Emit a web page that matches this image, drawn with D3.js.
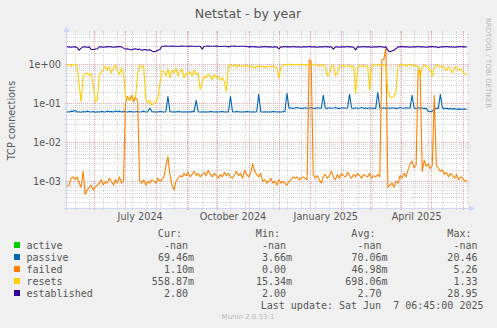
<!DOCTYPE html>
<html>
<head>
<meta charset="utf-8">
<script src="https://cdn.jsdelivr.net/npm/d3@7"></script>
<style>
  html, body { margin: 0; padding: 0; background: #f0f0f0; }
  svg { display: block; }
  text { white-space: pre; }
</style>
</head>
<body>
<svg id="chart" width="497" height="328"></svg>
<script>
// ---- data: TCP connection rates, one sample every 2 days ----
const sampleStart = Date.UTC(2024, 4, 5);
const sampleStepDays = 2;
const timeDomain = [new Date(Date.UTC(2024, 4, 5)), new Date(Date.UTC(2025, 5, 5, 10))];
const yDomain = [2.07e-4, 6.35];

const seriesNames  = ["active", "passive", "failed", "resets", "established"];
const seriesColors = ["#00cc00", "#0066b3", "#ff8000", "#ffcc00", "#330099"];

const activeValues = Array(199).fill(null);

const passiveValues = [
  0.061, 0.06, 0.063, 0.062, 0.066, 0.06, 0.061, 0.059, 0.062, 0.06,
  0.063, 0.061, 0.06, 0.062, 0.059, 0.061, 0.06, 0.062, 0.061, 0.06,
  0.063, 0.061, 0.062, 0.06, 0.064, 0.061, 0.063, 0.06, 0.062, 0.061,
  0.06, 0.062, 0.061, 0.06, 0.061, 0.062, 0.06, 0.061, 0.063, 0.06,
  0.061, 0.075, 0.062, 0.06, 0.061, 0.06, 0.062, 0.061, 0.06, 0.061,
  0.15, 0.062, 0.06, 0.061, 0.06, 0.062, 0.061, 0.06, 0.061, 0.06,
  0.061, 0.06, 0.062, 0.061, 0.12, 0.061, 0.06, 0.061, 0.06, 0.061,
  0.06, 0.062, 0.061, 0.06, 0.061, 0.06, 0.061, 0.062, 0.06, 0.061,
  0.06, 0.15, 0.061, 0.06, 0.062, 0.061, 0.06, 0.061, 0.06, 0.062,
  0.061, 0.06, 0.061, 0.06, 0.061, 0.17, 0.061, 0.06, 0.061, 0.06,
  0.061, 0.06, 0.062, 0.061, 0.06, 0.061, 0.06, 0.061, 0.062, 0.18,
  0.075, 0.077, 0.074, 0.076, 0.078, 0.075, 0.076, 0.074, 0.077, 0.075,
  0.076, 0.078, 0.075, 0.074, 0.077, 0.076, 0.075, 0.16, 0.076, 0.074,
  0.077, 0.075, 0.076, 0.078, 0.075, 0.074, 0.076, 0.077, 0.075, 0.076,
  0.17, 0.076, 0.074, 0.077, 0.075, 0.076, 0.078, 0.075, 0.076, 0.074,
  0.077, 0.075, 0.076, 0.074, 0.19, 0.076, 0.075, 0.077, 0.074, 0.076,
  0.075, 0.077, 0.076, 0.074, 0.075, 0.078, 0.076, 0.075, 0.077, 0.076,
  0.075, 0.16, 0.076, 0.074, 0.077, 0.075, 0.076, 0.074, 0.075, 0.062,
  0.061, 0.063, 0.07, 0.075, 0.074, 0.17, 0.076, 0.073, 0.075, 0.072,
  0.074, 0.071, 0.073, 0.07, 0.072, 0.071, 0.07, 0.072, 0.06946
];

const failedValues = [
  7.5e-4, 8e-4, 1.2e-3, 1.3e-3, 1.1e-3, 1.3e-3, 9e-4, 7e-4, 1.8e-3, 4.6e-4,
  6e-4, 7e-4, 8e-4, 6e-4, 7e-4, 8e-4, 9e-4, 1.1e-3, 8e-4, 1.0e-3,
  9e-4, 1.2e-3, 1.0e-3, 8e-4, 1.1e-3, 9e-4, 1.3e-3, 9e-4, 1.0e-3, 0.1,
  0.15, 0.12, 0.16, 0.11, 0.14, 0.12, 1.0e-3, 9e-4, 1.1e-3, 8e-4,
  1.0e-3, 9e-4, 1.1e-3, 1.0e-3, 9e-4, 1.2e-3, 1.0e-3, 1.1e-3, 1.3e-3, 2.5e-3,
  4.3e-3, 1.5e-3, 8e-4, 6e-4, 1.0e-3, 1.2e-3, 1.4e-3, 1.3e-3, 1.6e-3, 1.4e-3,
  1.7e-3, 1.3e-3, 1.5e-3, 1.8e-3, 1.4e-3, 1.6e-3, 1.3e-3, 1.5e-3, 1.7e-3, 1.4e-3,
  1.9e-3, 1.5e-3, 1.3e-3, 1.6e-3, 1.4e-3, 1.2e-3, 1.5e-3, 1.3e-3, 1.7e-3, 1.4e-3,
  1.6e-3, 1.3e-3, 1.2e-3, 1.5e-3, 1.8e-3, 1.4e-3, 1.6e-3, 1.2e-3, 1.9e-3, 1.5e-3,
  1.3e-3, 1.6e-3, 2.8e-3, 1.8e-3, 1.5e-3, 1.3e-3, 1.6e-3, 1.0e-3, 1.1e-3, 9e-4,
  1.0e-3, 1.2e-3, 9e-4, 1.0e-3, 8e-4, 1.1e-3, 9e-4, 1.0e-3, 9e-4, 8e-4,
  1.0e-3, 1.1e-3, 1.3e-3, 1.2e-3, 1.3e-3, 1.1e-3, 1.2e-3, 1.3e-3, 1.2e-3, 1.1e-3,
  1.3, 1.2, 1.5e-3, 1.2e-3, 1.4e-3, 1.1e-3, 9e-4, 1.3e-3, 1.5e-3, 1.2e-3,
  1.4e-3, 1.8e-3, 1.3e-3, 1.1e-3, 1.5e-3, 1.2e-3, 1.6e-3, 1.4e-3, 1.3e-3, 1.7e-3,
  1.4e-3, 1.2e-3, 1.5e-3, 1.3e-3, 1.6e-3, 1.4e-3, 1.2e-3, 1.5e-3, 1.4e-3, 1.3e-3,
  1.6e-3, 1.2e-3, 1.4e-3, 1.3e-3, 1.5e-3, 1.3e-3, 1.3, 1.35, 2.6, 7e-4,
  8e-4, 9e-4, 7e-4, 1.0e-3, 9e-4, 1.4e-3, 1.2e-3, 1.6e-3, 1.3e-3, 2.0e-3,
  2.8e-3, 3.3e-3, 2.2e-3, 2.6e-3, 0.7, 0.7, 1.8e-3, 3.5e-3, 2.4e-3, 2.8e-3,
  2.1e-3, 2.5e-3, 0.16, 2.6e-3, 2.2e-3, 1.8e-3, 2.0e-3, 1.5e-3, 1.7e-3, 1.3e-3,
  1.6e-3, 1.4e-3, 1.2e-3, 1.5e-3, 1.1e-3, 1.3e-3, 1.2e-3, 1.0e-3, 1.1e-3
];

const resetsValues = [
  0.95, 1.0, 0.92, 0.98, 1.0, 0.9, 0.3, 0.11, 0.5, 0.55,
  0.6, 0.52, 0.58, 0.3, 0.11, 0.12, 0.55, 0.62, 0.75, 0.9,
  0.72, 0.85, 0.6, 0.8, 0.95, 0.7, 0.55, 0.8, 0.6, 0.15,
  0.13, 0.14, 0.12, 0.13, 0.15, 0.6, 0.95, 0.85, 0.9, 0.13,
  0.1, 0.12, 0.09, 0.1, 0.11, 0.13, 0.3, 0.7, 0.65, 0.5,
  0.75, 0.45, 0.7, 0.6, 0.8, 0.5, 0.65, 0.75, 0.45, 0.6,
  0.55, 0.65, 0.5, 0.7, 0.55, 0.6, 0.22, 0.35, 0.5, 0.45,
  0.55, 0.5, 0.4, 0.55, 0.45, 0.5, 0.4, 0.45, 0.35, 0.2,
  0.9, 0.95, 0.9, 1.0, 0.85, 0.95, 0.9, 0.92, 0.88, 0.95,
  0.9, 0.85, 0.9, 0.8, 0.88, 0.92, 0.85, 0.9, 0.82, 0.88,
  0.9, 0.85, 0.9, 0.85, 0.8, 0.45, 0.85, 0.95, 1.0, 0.98,
  1.02, 0.95, 1.0, 0.97, 1.0, 0.95, 0.98, 1.0, 0.95, 0.98,
  1.0, 0.95, 0.98, 1.0, 0.95, 0.9, 0.95, 0.98, 0.9, 0.5,
  0.55, 0.9, 0.95, 0.5, 0.6, 0.9, 0.92, 0.95, 0.88, 0.9,
  0.92, 0.85, 0.9, 0.18, 0.85, 0.95, 0.9, 0.92, 0.88, 0.9,
  0.22, 0.9, 0.95, 1.0, 0.95, 0.98, 1.0, 0.95, 0.9, 0.2,
  0.15, 0.14, 0.15, 0.2, 0.9, 0.95, 1.0, 0.95, 0.9, 0.98,
  1.0, 0.92, 0.95, 0.9, 0.9, 0.45, 0.85, 0.95, 0.9, 0.85,
  0.7, 0.5, 0.8, 0.95, 0.9, 0.85, 0.9, 0.8, 0.7, 0.85,
  0.75, 0.6, 0.8, 0.85, 0.7, 0.75, 0.65, 0.55, 0.55887
];

const establishedValues = [
  2.8, 2.8, 2.75, 2.8, 2.8, 2.7, 2.3, 2.6, 2.8, 2.8,
  2.75, 2.8, 2.4, 2.4, 2.45, 2.5, 2.8, 2.8, 2.75, 2.8,
  2.8, 2.85, 2.8, 2.75, 2.8, 2.8, 2.85, 2.8, 2.6, 2.45,
  2.5, 2.4, 2.35, 2.45, 2.5, 2.4, 2.45, 2.3, 2.35, 2.4,
  2.3, 2.35, 2.2, 2.1, 2.15, 2.3, 2.4, 2.9, 2.9, 2.95,
  2.9, 2.9, 2.95, 2.9, 2.9, 2.85, 2.9, 2.95, 2.9, 2.9,
  2.9, 2.95, 2.9, 2.9, 2.85, 2.9, 2.9, 2.45, 2.9, 2.9,
  2.95, 2.9, 2.9, 2.9, 2.95, 2.9, 2.85, 2.9, 2.9, 2.9,
  2.8, 2.9, 2.9, 2.95, 2.9, 2.85, 2.9, 2.9, 2.9, 2.85,
  2.8, 2.8, 2.85, 2.8, 2.8, 2.75, 2.8, 2.8, 2.85, 2.8,
  2.8, 2.8, 2.75, 2.8, 2.8, 2.5, 2.8, 2.8, 2.85, 2.8,
  2.8, 2.8, 2.85, 2.8, 2.8, 2.8, 2.75, 2.8, 2.8, 2.8,
  2.85, 2.8, 2.8, 2.8, 2.75, 2.8, 2.8, 2.8, 2.85, 2.8,
  2.8, 2.8, 2.45, 2.8, 2.8, 2.75, 2.8, 2.8, 2.8, 2.85,
  2.8, 2.8, 2.75, 2.35, 2.8, 2.8, 2.8, 2.85, 2.8, 2.8,
  2.8, 2.75, 2.8, 2.8, 2.8, 2.85, 2.8, 2.75, 2.8, 2.3,
  2.1, 2.2, 2.3, 2.5, 2.8, 2.8, 2.85, 2.8, 2.8, 2.8,
  2.75, 2.8, 2.8, 2.8, 2.85, 2.8, 2.8, 2.8, 2.75, 2.8,
  2.8, 2.85, 2.8, 2.8, 2.65, 2.8, 2.8, 2.8, 2.85, 2.8,
  2.8, 2.8, 2.75, 2.8, 2.8, 2.85, 2.8, 2.8, 2.80
];

// legend statistics: min / avg / max per series (null = no data)
const statMin = [null, 0.00366, 0, 0.01534, 2.00];
const statAvg = [null, 0.07006, 0.04698, 0.69806, 2.70];
const statMax = [null, 20.46, 5.26, 1.33, 28.95];

const titleText = "Netstat - by year";
const yAxisTitle = "TCP connections";
const lastUpdateText = "Last update: Sat Jun  7 06:45:00 2025";
const sideText = "RRDTOOL / TOBI OETIKER";
const footerText = "Munin 2.0.33-1";

// ---- layout ----
const W = 497, H = 328;
const X0 = 67, X1 = 467, YT = 33, YB = 208;
const axisFont = "'DejaVu Sans', sans-serif";
const monoFont = "'DejaVu Sans Mono', monospace";
const textColor = "#555";

const allSeries = [activeValues, passiveValues, failedValues, resetsValues, establishedValues];

const svg = d3.select("#chart");
svg.append("rect").attr("width", W).attr("height", H).attr("fill", "#f0f0f0");
svg.append("rect").attr("x", X0).attr("y", YT).attr("width", X1 - X0).attr("height", YB - YT).attr("fill", "#ffffff");

const x = d3.scaleUtc().domain(timeDomain).range([X0, X1]);
const y = d3.scaleLog().domain(yDomain).range([YB, YT]);

const dateAt = i => new Date(sampleStart + i * sampleStepDays * 86400000);

// ---- grid ----
const grid = svg.append("g");
function hLine(py, color) {
  grid.append("line").attr("x1", X0 - 2).attr("x2", X0).attr("y1", py).attr("y2", py).attr("stroke", color);
  grid.append("line").attr("x1", X1).attr("x2", X1 + 2).attr("y1", py).attr("y2", py).attr("stroke", color);
  grid.append("line").attr("x1", X0).attr("x2", X1).attr("y1", py).attr("y2", py)
    .attr("stroke", color).attr("stroke-dasharray", "1,1");
}
function vLine(px, color) {
  grid.append("line").attr("x1", px).attr("x2", px).attr("y1", YT - 2).attr("y2", YT).attr("stroke", color);
  grid.append("line").attr("x1", px).attr("x2", px).attr("y1", YB).attr("y2", YB + 2).attr("stroke", color);
  grid.append("line").attr("x1", px).attr("x2", px).attr("y1", YT).attr("y2", YB)
    .attr("stroke", color).attr("stroke-dasharray", "1,1");
}
const minorColor = "#d4d4d4";
const majorColor = "#f2a0a0";

for (let e = -4; e <= 0; e++) {
  for (let k = 2; k <= 9; k++) {
    const v = k * Math.pow(10, e);
    if (v > yDomain[0] && v < yDomain[1]) hLine(Math.round(y(v)) + 0.5, minorColor);
  }
}
const minorDates = d3.utcDay.range(new Date(Date.UTC(2024, 4, 13)), timeDomain[1], 14);
minorDates.forEach(d => vLine(Math.round(x(d)) + 0.5, minorColor));

const decades = [1e-3, 1e-2, 1e-1, 1e0];
decades.forEach(v => hLine(Math.round(y(v)) + 0.5, majorColor));
const monthDates = d3.utcMonth.range(d3.utcMonth.ceil(timeDomain[0]), timeDomain[1]);
monthDates.forEach(d => vLine(Math.round(x(d)) + 0.5, majorColor));

// ---- axes (labels) ----
const yAxis = d3.axisLeft(y).tickValues(decades).tickSize(0).tickPadding(0)
  .tickFormat(v => {
    const p = Math.round(Math.log10(v));
    return "1e" + (p < 0 ? "-" : "+") + String(Math.abs(p)).padStart(2, "0");
  });
const gy = svg.append("g").attr("transform", `translate(${X0 - 6},0)`).call(yAxis);
gy.select(".domain").remove();
gy.selectAll("text").attr("font-family", axisFont).attr("font-size", "9.7px").attr("fill", textColor).attr("dy", "0.35em");

const labelMonths = d3.utcMonth.every(3).range(d3.utcMonth.ceil(timeDomain[0]), timeDomain[1]);
const xLabelScale = d3.scaleUtc().domain(timeDomain).range([X0, X1]);
const xAxis = d3.axisBottom(xLabelScale)
  .tickValues(labelMonths.map(d => d3.utcDay.offset(d, 15)))
  .tickSize(0).tickPadding(0)
  .tickFormat(d => d3.utcFormat("%B %Y")(d3.utcMonth.floor(d)));
const gx = svg.append("g").attr("transform", `translate(0,${YB + 5})`).call(xAxis);
gx.select(".domain").remove();
gx.selectAll("text").attr("font-family", axisFont).attr("font-size", "9.7px").attr("fill", textColor).attr("dy", "0.71em");

// ---- data lines ----
svg.append("clipPath").attr("id", "plotclip")
  .append("rect").attr("x", X0).attr("y", YT).attr("width", X1 - X0).attr("height", YB - YT);
const line = d3.line()
  .defined(d => d.v != null && d.v > 0)
  .x(d => x(d.t))
  .y(d => y(d.v));
const plot = svg.append("g").attr("clip-path", "url(#plotclip)");
allSeries.forEach((vals, si) => {
  const pts = vals.map((v, i) => ({ t: dateAt(i), v }));
  plot.append("path").datum(pts).attr("d", line)
    .attr("fill", "none").attr("stroke", seriesColors[si]).attr("stroke-width", 1.1)
    .attr("stroke-linejoin", "round");
});

// ---- axis lines with arrows ----
const axisColor = "#cfd6f8";
svg.append("line").attr("x1", X0 - 0.5).attr("x2", X0 - 0.5).attr("y1", YB + 3).attr("y2", YT - 3)
  .attr("stroke", axisColor);
svg.append("path").attr("d", `M${X0 - 3.5},${YT - 1} L${X0 + 2.5},${YT - 1} L${X0 - 0.5},${YT - 7} Z`).attr("fill", axisColor);
svg.append("line").attr("x1", X0 - 3).attr("x2", X1 + 3).attr("y1", YB + 0.5).attr("y2", YB + 0.5)
  .attr("stroke", axisColor);
svg.append("path").attr("d", `M${X1 + 2},${YB - 2.5} L${X1 + 2},${YB + 3.5} L${X1 + 8},${YB + 0.5} Z`).attr("fill", axisColor);

// ---- titles ----
svg.append("text").attr("x", 248).attr("y", 18).attr("text-anchor", "middle")
  .attr("font-family", axisFont).attr("font-size", "12.6px").attr("fill", textColor).text(titleText);
svg.append("text").attr("transform", `translate(15,${(YT + YB) / 2}) rotate(-90)`).attr("text-anchor", "middle")
  .attr("font-family", axisFont).attr("font-size", "9.7px").attr("fill", textColor).text(yAxisTitle);
svg.append("text").attr("transform", `translate(486,18) rotate(90)`).attr("text-anchor", "start")
  .attr("font-family", axisFont).attr("font-size", "7px").attr("fill", "#b8b8b8").text(sideText);

// ---- legend ----
function fmt(v) {
  if (v == null || isNaN(v)) return "-nan ";
  if (v === 0) return "0.00 ";
  if (Math.abs(v) < 1) return (v * 1000).toFixed(2) + "m";
  if (Math.abs(v) >= 1000) return (v / 1000).toFixed(2) + "k";
  return v.toFixed(2) + " ";
}
const legend = svg.append("g").attr("font-family", monoFont).attr("font-size", "10px").attr("fill", textColor);
const probe = legend.append("text").text("0000000000");
const charW = probe.node().getComputedTextLength() / 10;
probe.remove();

const colEdges = [194, 292, 387.5, 483.5];
const colHeads = ["Cur:", "Min:", "Avg:", "Max:"];
const headerBase = 237;
const rowBase = [249, 261, 273, 285, 297];

colHeads.forEach((h, c) => {
  legend.append("text").attr("x", colEdges[c] - 2 * charW).attr("y", headerBase).attr("text-anchor", "end").text(h);
});
function putValue(str, c, yb) {
  let xr = colEdges[c];
  if (str.endsWith(" ")) { str = str.trimEnd(); xr -= charW; }
  legend.append("text").attr("x", xr).attr("y", yb).attr("text-anchor", "end").text(str);
}
seriesNames.forEach((name, si) => {
  const yb = rowBase[si];
  legend.append("rect").attr("x", 14).attr("y", yb - 7).attr("width", 6).attr("height", 6).attr("fill", seriesColors[si]);
  legend.append("text").attr("x", 26.5).attr("y", yb).text(name);
  const vals = allSeries[si];
  const cur = vals[vals.length - 1];
  putValue(fmt(cur), 0, yb);
  putValue(fmt(statMin[si]), 1, yb);
  putValue(fmt(statAvg[si]), 2, yb);
  putValue(fmt(statMax[si]), 3, yb);
});
legend.append("text").attr("x", colEdges[3]).attr("y", 309).attr("text-anchor", "end").text(lastUpdateText);

svg.append("text").attr("x", 248).attr("y", 319).attr("text-anchor", "middle")
  .attr("font-family", axisFont).attr("font-size", "7px").attr("fill", "#b8b8b8").text(footerText);
</script>
</body>
</html>
